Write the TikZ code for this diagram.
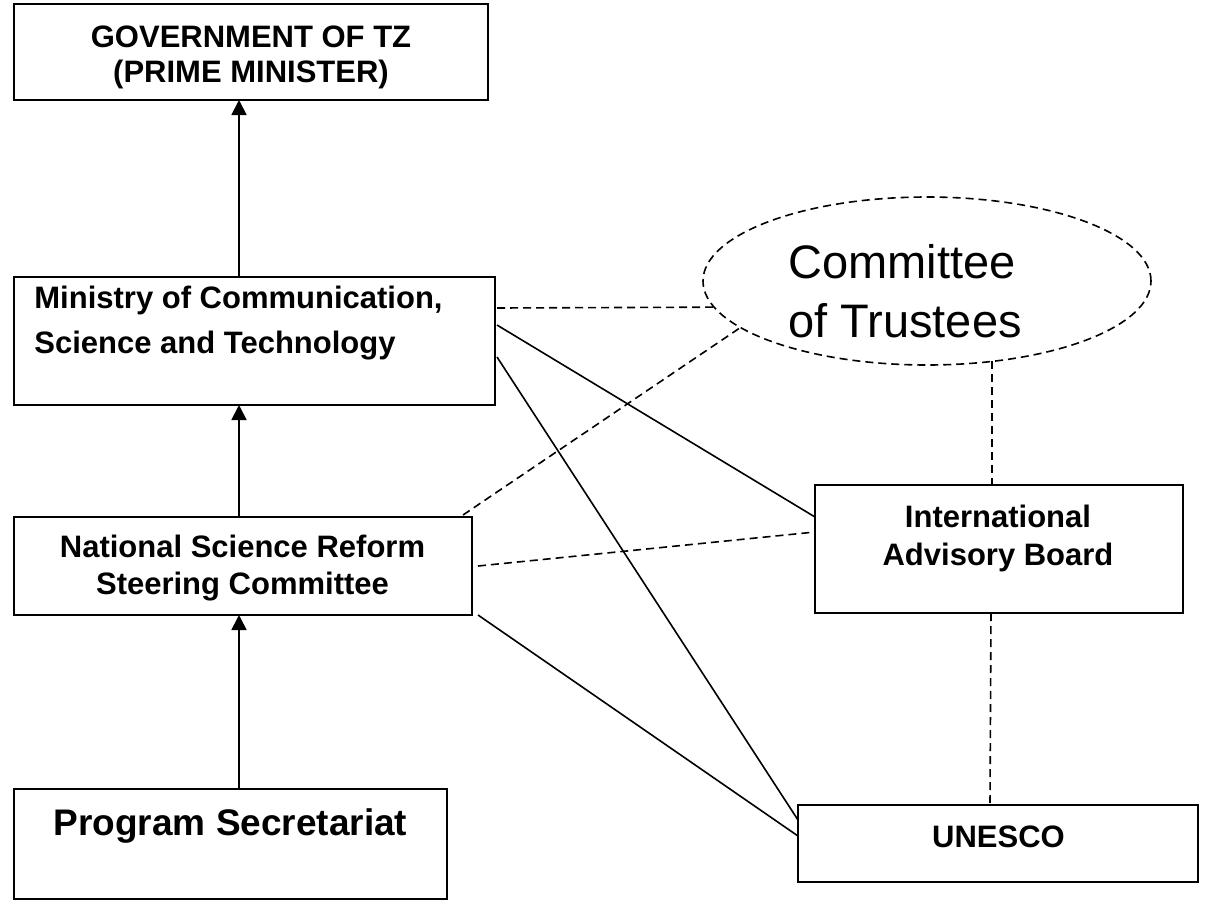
\documentclass[tikz,border=0pt]{standalone}
\usepackage{fontspec}
\setmainfont{Liberation Sans}
\usetikzlibrary{arrows.meta, fit, shapes.geometric}

\begin{document}
\begin{tikzpicture}[x=0.5pt, y=-0.5pt,
		box/.style={draw, line width=1pt, inner sep=0pt, outer sep=0pt},
		lbl/.style={inner sep=0pt, align=center, font=\bfseries\fontsize{15.5pt}{17.5pt}\selectfont},
		link/.style={line width=0.8pt},
		dashlink/.style={line width=0.8pt, dash pattern=on 4pt off 2.5pt},
		up/.style={line width=0.9pt, -{Triangle[length=7.5pt, width=7.5pt]}}]
	
	\useasboundingbox (0,0) rectangle (1206,901);
	
	\node[box, fit={(14,4) (488,100)}] (gov) {};
	\node[box, fit={(14,277) (495,405)}] (min) {};
	\node[box, fit={(14,517) (472,615)}] (nsr) {};
	\node[box, fit={(14,789) (447,899)}] (ps) {};
	\node[box, fit={(815,485) (1183,613)}] (iab) {};
	\node[box, fit={(798,805) (1198,882)}] (une) {};
	\node[draw, ellipse, dashlink, minimum width=224pt, minimum height=84pt, inner sep=0pt, outer sep=0pt] (trust) at (927,281) {};
	
	\node[lbl, anchor=north] (govtext) at (251,25) {GOVERNMENT OF TZ\\(PRIME MINISTER)};
	\node[lbl, anchor=north west, align=left, font=\bfseries\fontsize{15.5pt}{22.25pt}\selectfont] (mintext) at (34,286) {Ministry of Communication,\\Science and Technology};
	\node[lbl, anchor=north, font=\bfseries\fontsize{15.5pt}{18.5pt}\selectfont] (nsrtext) at (242.5,535) {National Science Reform\\Steering Committee};
	\node[lbl, anchor=north, font=\bfseries\fontsize{18.5pt}{22pt}\selectfont] (pstext) at (230.5,808) {Program Secretariat};
	\node[lbl, anchor=north, font=\bfseries\fontsize{15.5pt}{19pt}\selectfont] (iabtext) at (998,505) {International\\Advisory Board};
	\node[lbl, anchor=north] (unetext) at (998.5,825) {UNESCO};
	\node[inner sep=0pt, anchor=north west, align=left, font=\fontsize{23.5pt}{29.5pt}\selectfont] (trusttext) at (788,244) {Committee\\of Trustees};
	
	\coordinate (axis) at (239,0);
	\draw[up] (ps.north -| axis) -- (nsr.south -| axis);
	\draw[up] (nsr.north -| axis) -- (min.south -| axis);
	\draw[up] (min.north -| axis) -- (gov.south -| axis);
	
	\draw[dashlink] ([xshift=1pt, yshift=16.5pt]min.east) -- (trust.187);
	\draw[dashlink] ([xshift=-4.5pt, yshift=1pt]nsr.north east) -- (trust.194.6);
	\draw[dashlink] (trust.309) -- (trust.309 |- iab.north);
	\draw[dashlink] ([xshift=3pt]nsr.east) -- ([yshift=8.5pt]iab.west);
	\draw[dashlink] ([xshift=-4pt]iab.south) -- ([xshift=-4pt]une.north);
	
	\draw[link] ([xshift=1pt, yshift=8pt]min.east) -- ([yshift=16pt]iab.west);
	\draw[link] ([xshift=1pt, yshift=-8pt]min.east) -- ([yshift=11.75pt]une.west);
	\draw[link] ([xshift=3pt]nsr.south east) -- ([yshift=3.75pt]une.west);
	
\end{tikzpicture}
\end{document}
